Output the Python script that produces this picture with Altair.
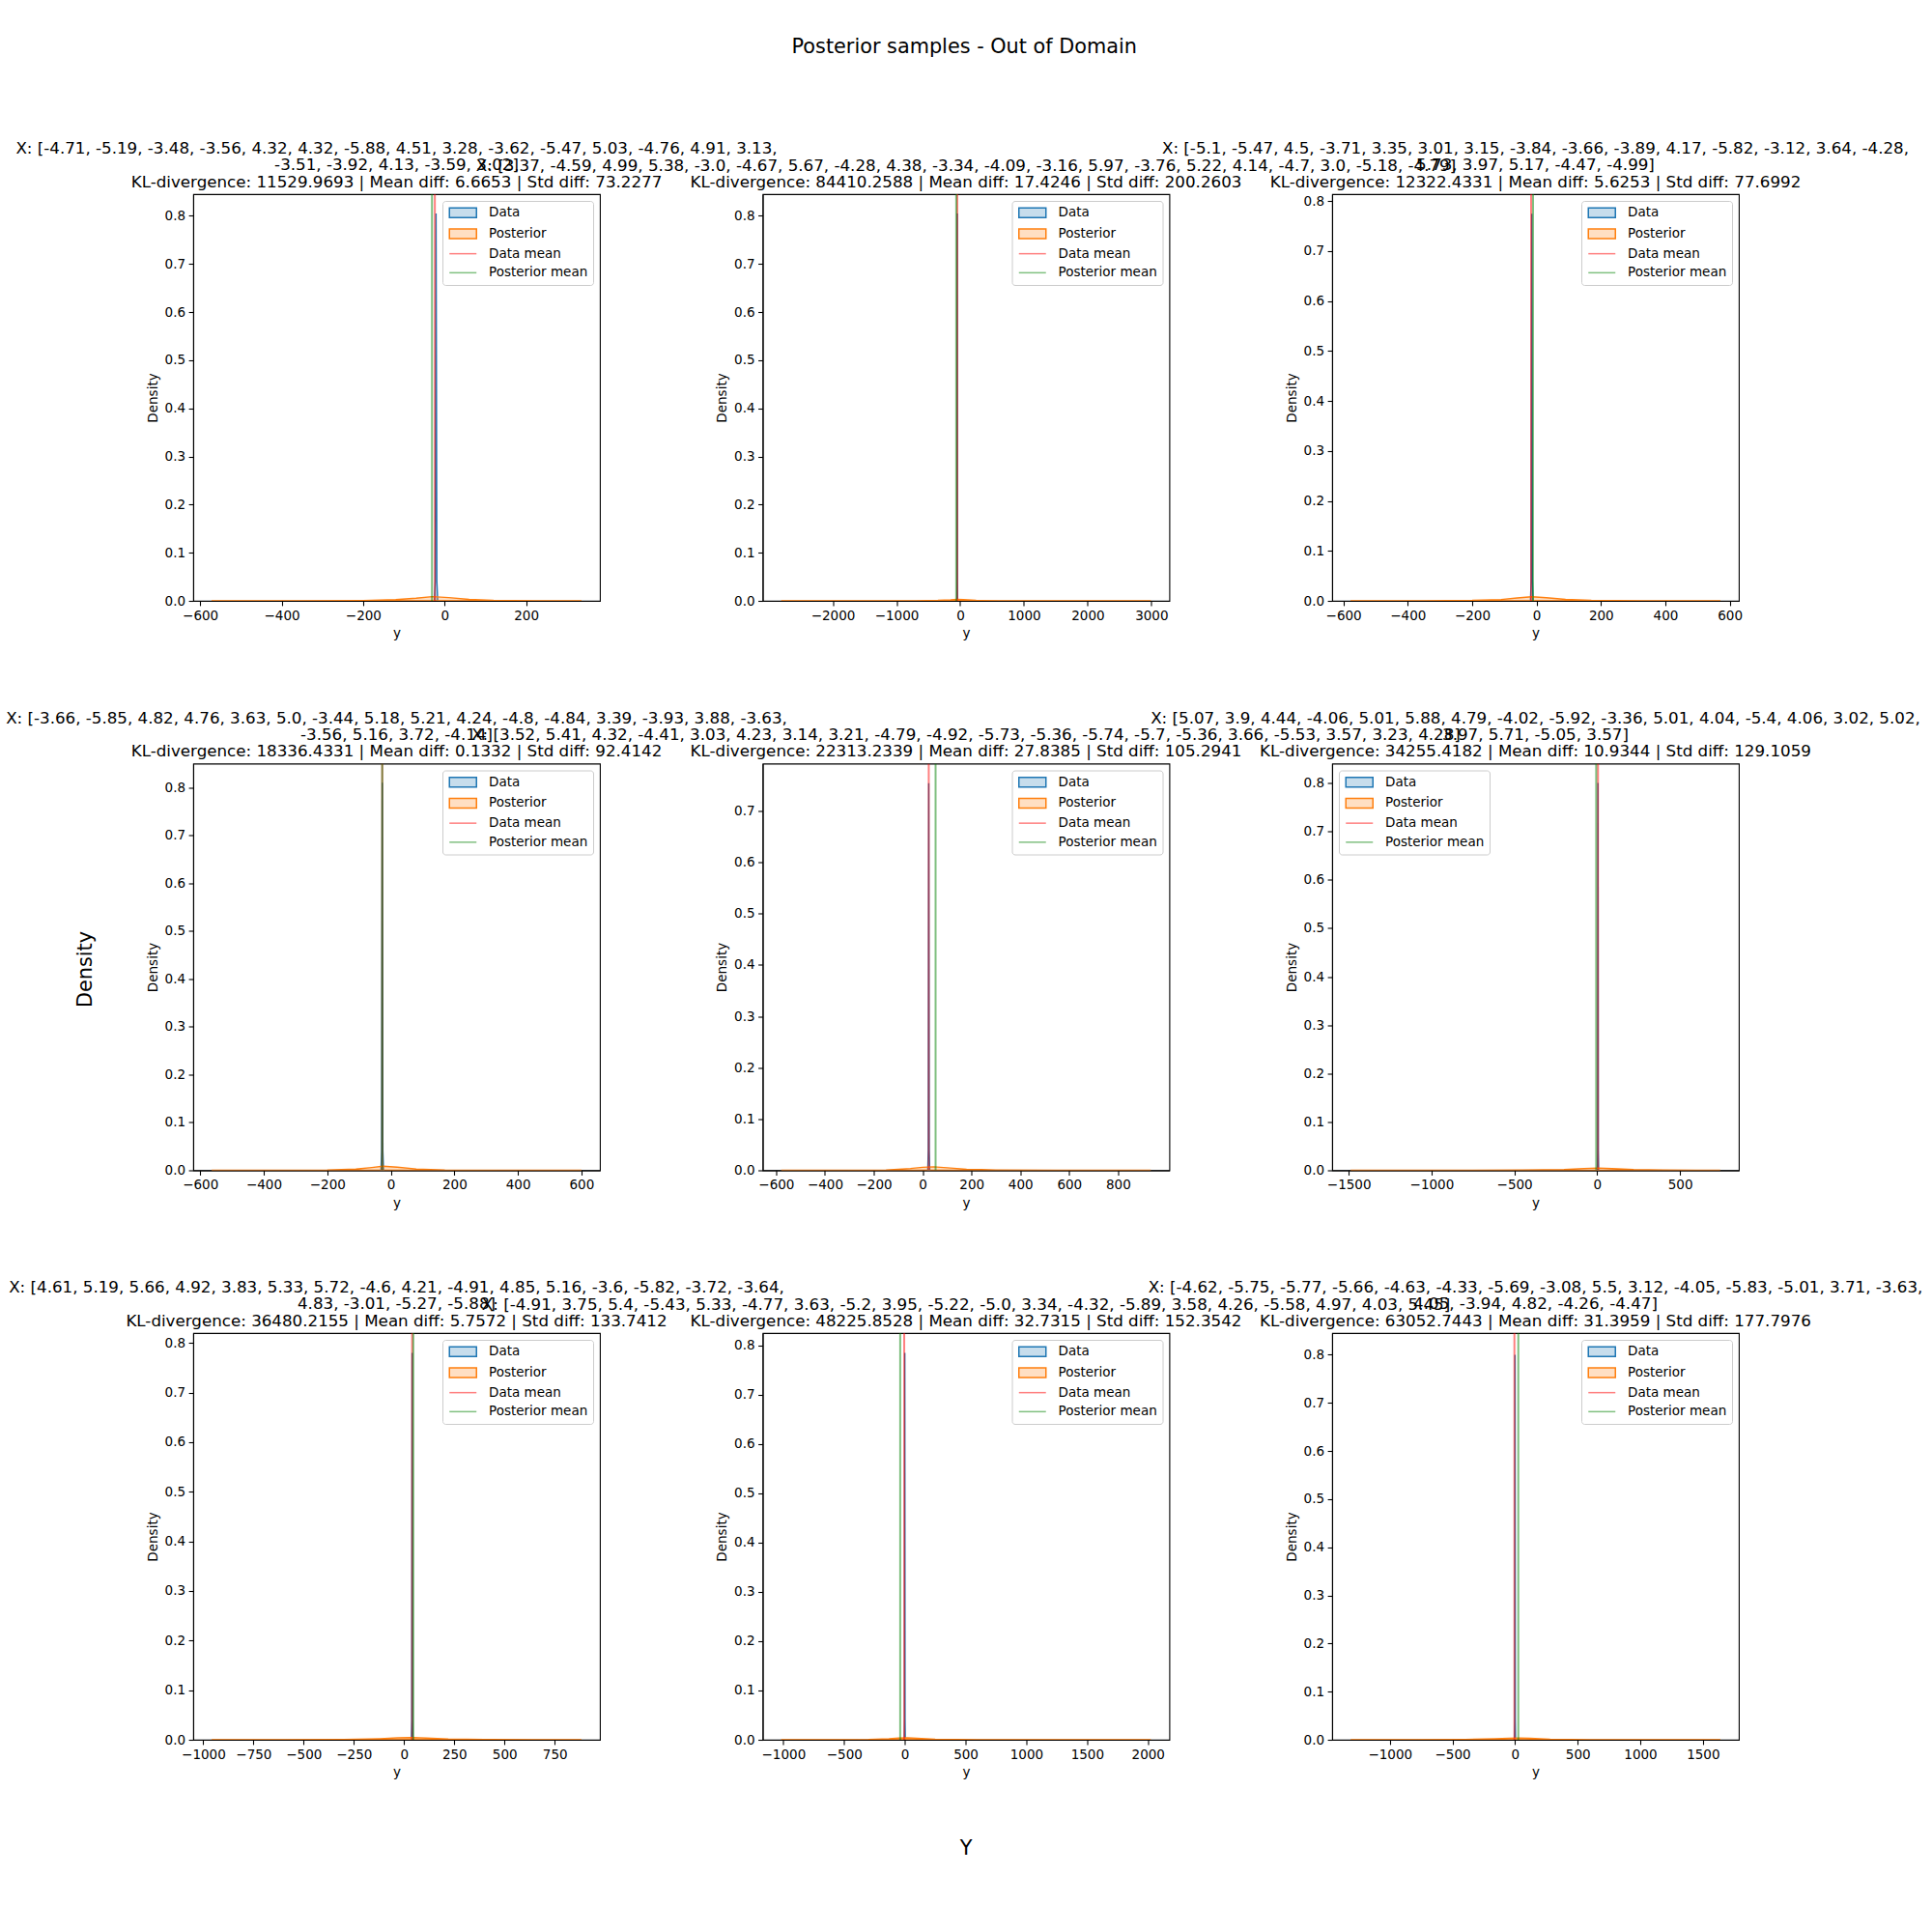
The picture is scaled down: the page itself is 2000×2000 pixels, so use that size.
import altair as alt
import pandas as pd

FONT = "DejaVu Sans"
SUPTITLE = "Posterior samples - Out of Domain"
SUPXLABEL = "Y"
SUPYLABEL = "Density"
X_TITLE = "y"
Y_TITLE = "Density"

SERIES = ["Data", "Posterior", "Data mean", "Posterior mean"]
SERIES_FILL = ["#c7ddec", "#ffdfc3", "#ff8080", "#80c080"]
SERIES_STROKE = ["#1f77b4", "#ff7f0e", "#ff8080", "#80c080"]
SERIES_SHAPE = ["M-1,-1H4.6V1H-1Z", "M-1,-1H4.6V1H-1Z", "M-1,0H4.6", "M-1,0H4.6"]

TITLES = [
    ["X: [-4.71, -5.19, -3.48, -3.56, 4.32, 4.32, -5.88, 4.51, 3.28, -3.62, -5.47, 5.03, -4.76, 4.91, 3.13,",
     "-3.51, -3.92, 4.13, -3.59, 3.02]",
     "KL-divergence: 11529.9693 | Mean diff: 6.6653 | Std diff: 73.2277"],
    ["X: [3.37, -4.59, 4.99, 5.38, -3.0, -4.67, 5.67, -4.28, 4.38, -3.34, -4.09, -3.16, 5.97, -3.76, 5.22, 4.14, -4.7, 3.0, -5.18, -4.79]",
     "KL-divergence: 84410.2588 | Mean diff: 17.4246 | Std diff: 200.2603"],
    ["X: [-5.1, -5.47, 4.5, -3.71, 3.35, 3.01, 3.15, -3.84, -3.66, -3.89, 4.17, -5.82, -3.12, 3.64, -4.28,",
     "5.73, 3.97, 5.17, -4.47, -4.99]",
     "KL-divergence: 12322.4331 | Mean diff: 5.6253 | Std diff: 77.6992"],
    ["X: [-3.66, -5.85, 4.82, 4.76, 3.63, 5.0, -3.44, 5.18, 5.21, 4.24, -4.8, -4.84, 3.39, -3.93, 3.88, -3.63,",
     "-3.56, 5.16, 3.72, -4.14]",
     "KL-divergence: 18336.4331 | Mean diff: 0.1332 | Std diff: 92.4142"],
    ["X: [3.52, 5.41, 4.32, -4.41, 3.03, 4.23, 3.14, 3.21, -4.79, -4.92, -5.73, -5.36, -5.74, -5.7, -5.36, 3.66, -5.53, 3.57, 3.23, 4.28]",
     "KL-divergence: 22313.2339 | Mean diff: 27.8385 | Std diff: 105.2941"],
    ["X: [5.07, 3.9, 4.44, -4.06, 5.01, 5.88, 4.79, -4.02, -5.92, -3.36, 5.01, 4.04, -5.4, 4.06, 3.02, 5.02,",
     "3.97, 5.71, -5.05, 3.57]",
     "KL-divergence: 34255.4182 | Mean diff: 10.9344 | Std diff: 129.1059"],
    ["X: [4.61, 5.19, 5.66, 4.92, 3.83, 5.33, 5.72, -4.6, 4.21, -4.91, 4.85, 5.16, -3.6, -5.82, -3.72, -3.64,",
     "4.83, -3.01, -5.27, -5.88]",
     "KL-divergence: 36480.2155 | Mean diff: 5.7572 | Std diff: 133.7412"],
    ["X: [-4.91, 3.75, 5.4, -5.43, 5.33, -4.77, 3.63, -5.2, 3.95, -5.22, -5.0, 3.34, -4.32, -5.89, 3.58, 4.26, -5.58, 4.97, 4.03, 5.45]",
     "KL-divergence: 48225.8528 | Mean diff: 32.7315 | Std diff: 152.3542"],
    ["X: [-4.62, -5.75, -5.77, -5.66, -4.63, -4.33, -5.69, -3.08, 5.5, 3.12, -4.05, -5.83, -5.01, 3.71, -3.63,",
     "4.05, -3.94, 4.82, -4.26, -4.47]",
     "KL-divergence: 63052.7443 | Mean diff: 31.3959 | Std diff: 177.7976"],
]

X_DOMAINS = [
    [-617, 381], [-3100, 3283], [-635, 628],
    [-622, 658], [-655, 1010], [-1600, 855],
    [-1050, 975], [-1170, 2177], [-1461, 1787],
]
X_TICKS = [
    [-600, -400, -200, 0, 200],
    [-2000, -1000, 0, 1000, 2000, 3000],
    [-600, -400, -200, 0, 200, 400, 600],
    [-600, -400, -200, 0, 200, 400, 600],
    [-600, -400, -200, 0, 200, 400, 600, 800],
    [-1500, -1000, -500, 0, 500],
    [-1000, -750, -500, -250, 0, 250, 500, 750],
    [-1000, -500, 0, 500, 1000, 1500, 2000],
    [-1000, -500, 0, 500, 1000, 1500],
]
Y_MAX = [0.845, 0.845, 0.814, 0.85, 0.792, 0.84, 0.82, 0.825, 0.845]
Y_TICKS_8 = [0.0, 0.1, 0.2, 0.3, 0.4, 0.5, 0.6, 0.7, 0.8]
Y_TICKS_7 = [0.0, 0.1, 0.2, 0.3, 0.4, 0.5, 0.6, 0.7]
Y_TICKS = [Y_TICKS_8, Y_TICKS_8, Y_TICKS_8, Y_TICKS_8, Y_TICKS_7,
           Y_TICKS_8, Y_TICKS_8, Y_TICKS_8, Y_TICKS_8]

# Data KDE (narrow spike)
DATA_X = [
    [-25, -23, -22, -21, -20, -19, -17],
    [-49, -47, -46, -45, -44, -43, -41],
    [-19, -17, -16, -15, -14, -13, -11],
    [-31, -29, -28, -27, -26, -25, -23],
    [21, 23, 24, 25, 26, 27, 29],
    [1, 3, 4, 5, 6, 7, 9],
    [36, 38, 39, 40, 41, 42, 44],
    [-4, -2, -1, 0, 1, 2, 4],
    [-4, -2, -1, 0, 1, 2, 4],
]
DATA_Y = [
    [0, 0.04, 0.44, 0.805, 0.44, 0.04, 0],
    [0, 0.04, 0.44, 0.805, 0.44, 0.04, 0],
    [0, 0.04, 0.43, 0.775, 0.43, 0.04, 0],
    [0, 0.04, 0.45, 0.81, 0.45, 0.04, 0],
    [0, 0.04, 0.41, 0.754, 0.41, 0.04, 0],
    [0, 0.04, 0.44, 0.80, 0.44, 0.04, 0],
    [0, 0.04, 0.43, 0.78, 0.43, 0.04, 0],
    [0, 0.04, 0.43, 0.785, 0.43, 0.04, 0],
    [0, 0.04, 0.44, 0.80, 0.44, 0.04, 0],
]

# Posterior KDE (broad, low)
POST_X = [
    [-572, -350, -200, -120, -70, -30, 10, 60, 120, 220, 336],
    [-2810, -1500, -700, -350, -150, -50, 50, 250, 600, 1500, 2993],
    [-578, -350, -200, -110, -60, -15, 30, 90, 170, 330, 571],
    [-564, -350, -200, -110, -60, -25, 20, 80, 170, 350, 600],
    [-579, -350, -150, -50, 0, 45, 100, 180, 300, 550, 934],
    [-1488, -900, -450, -200, -80, 5, 90, 220, 400, 600, 743],
    [-958, -600, -300, -120, -30, 40, 110, 220, 400, 650, 883],
    [-1018, -600, -300, -130, -50, 20, 100, 250, 600, 1200, 2025],
    [-1313, -800, -400, -160, -50, 30, 120, 280, 600, 1100, 1640],
]
POST_Y = [
    [0, 0.0002, 0.0008, 0.0025, 0.0055, 0.0087, 0.0068, 0.003, 0.001, 0.0002, 0],
    [0, 0.00005, 0.0003, 0.0009, 0.0022, 0.0032, 0.0025, 0.001, 0.0003, 0.00005, 0],
    [0, 0.0002, 0.0009, 0.0027, 0.0058, 0.0082, 0.0062, 0.0028, 0.0009, 0.0002, 0],
    [0, 0.0002, 0.0008, 0.0026, 0.0058, 0.0085, 0.0065, 0.0028, 0.0008, 0.0002, 0],
    [0, 0.0001, 0.0008, 0.0035, 0.0058, 0.0068, 0.005, 0.0022, 0.0007, 0.0001, 0],
    [0, 0.00005, 0.0004, 0.0018, 0.0038, 0.0048, 0.0035, 0.0015, 0.0004, 0.0001, 0],
    [0, 0.00005, 0.0005, 0.0022, 0.0038, 0.0045, 0.0035, 0.0015, 0.0004, 0.00005, 0],
    [0, 0.00008, 0.0006, 0.0022, 0.0035, 0.004, 0.003, 0.0012, 0.0002, 0.00003, 0],
    [0, 0.00005, 0.0005, 0.002, 0.0033, 0.0038, 0.0029, 0.0012, 0.0002, 0.00003, 0],
]

DATA_MEAN = [-24, -45, -17, -27, 25, 5, 40, -5, -5]
POST_MEAN = [-31, -62, -11, -27.1, 53, -6, 46, -38, 26]
LEGEND_ORIENT = ["top-right", "top-right", "top-right",
                 "top-right", "top-right", "top-left",
                 "top-right", "top-right", "top-right"]

C0 = "#1f77b4"
C1 = "#ff7f0e"
PANEL_W = 421
PANEL_H = 421
GAP = 168.5


def panel(i):
    xs = alt.Scale(domain=X_DOMAINS[i], nice=False, zero=False)
    ys = alt.Scale(domain=[0, Y_MAX[i]], nice=False, zero=False)
    xax = alt.Axis(values=X_TICKS[i], format="d", title=X_TITLE, labelFlush=False)
    yax = alt.Axis(values=Y_TICKS[i], format=".1f", title=Y_TITLE)

    data = alt.Chart(pd.DataFrame({"x": DATA_X[i], "y": DATA_Y[i]})).mark_area(
        fill=C0, fillOpacity=0.25, stroke=C0, strokeWidth=1.4, clip=True
    ).encode(x=alt.X("x:Q", scale=xs, axis=xax), y=alt.Y("y:Q", scale=ys, axis=yax))

    post = alt.Chart(pd.DataFrame({"x": POST_X[i], "y": POST_Y[i]})).mark_area(
        fill=C1, fillOpacity=0.25, stroke=C1, strokeWidth=1.4, clip=True
    ).encode(x=alt.X("x:Q", scale=xs), y=alt.Y("y:Q", scale=ys))

    means = alt.Chart(pd.DataFrame({"x": [DATA_MEAN[i], POST_MEAN[i]],
                                    "c": ["red", "green"]})).mark_rule(
        strokeWidth=2, opacity=0.5, clip=True
    ).encode(x=alt.X("x:Q", scale=xs), color=alt.Color("c:N", scale=None))

    leg = alt.Legend(title=None, orient=LEGEND_ORIENT[i])
    legend_layer = alt.Chart(pd.DataFrame({"s": SERIES})).mark_point(
        filled=True, opacity=1, strokeWidth=1.5
    ).encode(
        fill=alt.Fill("s:N", scale=alt.Scale(domain=SERIES, range=SERIES_FILL), legend=leg),
        stroke=alt.Stroke("s:N", scale=alt.Scale(domain=SERIES, range=SERIES_STROKE), legend=leg),
        shape=alt.Shape("s:N", scale=alt.Scale(domain=SERIES, range=SERIES_SHAPE), legend=leg),
    ).transform_filter("false")

    layers = [data, post, means, legend_layer]
    if i == 3:
        layers.append(alt.Chart(pd.DataFrame({"t": [SUPYLABEL]})).mark_text(
            angle=270, fontSize=20.8, font=FONT, color="black"
        ).encode(text="t:N", x=alt.value(-111), y=alt.value(213)))
    if i == 7:
        layers.append(alt.Chart(pd.DataFrame({"t": [SUPXLABEL]})).mark_text(
            fontSize=20.8, font=FONT, color="black"
        ).encode(text="t:N", x=alt.value(210.5), y=alt.value(534)))

    return alt.layer(*layers).properties(
        width=PANEL_W, height=PANEL_H,
        title=alt.TitleParams(text=TITLES[i], fontSize=16.7, font=FONT, fontWeight="normal",
                              anchor="middle", frame="group", offset=-13.5, lineHeight=17.3,
                              baseline="bottom", color="black"),
    )


panels = [panel(i) for i in range(9)]

chart = alt.concat(*panels, columns=3, spacing=GAP, bounds="flush").properties(
    title=alt.TitleParams(SUPTITLE, fontSize=20.8, font=FONT, fontWeight="normal",
                          anchor="middle", offset=85.5, color="black"),
    padding={"left": 5, "top": 38, "right": 5, "bottom": 5},
).configure_view(
    stroke="black", strokeWidth=1.1
).configure_axis(
    labelFont=FONT, titleFont=FONT, labelFontSize=13.5, titleFontSize=13.5,
    titleFontWeight="normal", labelColor="black", titleColor="black",
    domainColor="black", tickColor="black", domainWidth=1.1, tickWidth=1.1,
    tickSize=4.9, labelPadding=3.5, grid=False, titlePadding=5,
).configure_legend(
    labelFont=FONT, labelFontSize=13.5, labelColor="black", symbolSize=100,
    labelOffset=29, rowPadding=4.7, padding=5.5, strokeColor="#cccccc",
    cornerRadius=3, fillColor="white", offset=7, symbolStrokeWidth=1.5,
)

chart.save("out.html", embed_options={"renderer": "svg", "actions": False})
